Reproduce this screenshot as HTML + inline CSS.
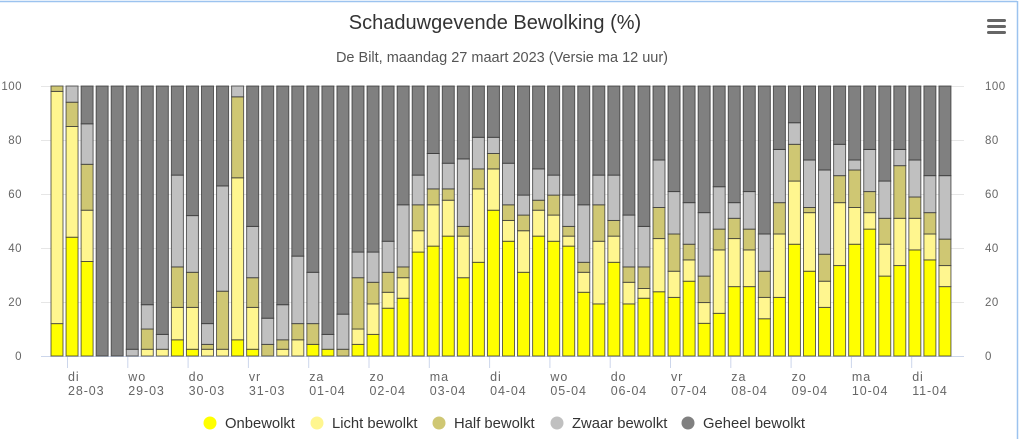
<!DOCTYPE html>
<html><head><meta charset="utf-8">
<style>
html,body{margin:0;padding:0;background:#fff;}
#wrap{position:relative;width:1023px;height:439px;overflow:hidden;font-family:"Liberation Sans",sans-serif;}
svg{position:absolute;left:0;top:0;}
</style></head>
<body>
<div id="wrap">
<svg id="chart" width="1023" height="439" xmlns="http://www.w3.org/2000/svg">
  <line x1="0" y1="1.5" x2="1017" y2="1.5" stroke="#9cc3ef" stroke-width="1.5"/>
  <line x1="1017.5" y1="1" x2="1017.5" y2="439" stroke="#9cc3ef" stroke-width="1.5"/>
  <text x="495" y="29" text-anchor="middle" font-size="20" fill="#333">Schaduwgevende Bewolking (%)</text>
  <text x="502" y="62" text-anchor="middle" font-size="14.5" fill="#555">De Bilt, maandag 27 maart 2023 (Versie ma 12 uur)</text>
  <g>
    <rect x="985" y="18" width="22" height="18" fill="transparent"/>
    <rect x="987" y="19" width="19" height="3" rx="1.5" fill="#666"/>
    <rect x="987" y="25" width="19" height="3" rx="1.5" fill="#666"/>
    <rect x="987" y="31" width="19" height="3" rx="1.5" fill="#666"/>
  </g>
  <g id="grid"></g>
  <g id="bars"></g>
  <g id="xaxis"></g>
  <g id="legend"></g>
</svg>
</div>
<script>
const onbewolkt = [12,44,35,0,0,0,0,0,6,2.5,0,0,6,2.5,0,0,0,4.3,2.5,0,4.3,8,17.7,21.4,38.5,40.7,44.4,29,34.7,54,42.5,31,44.4,42.5,40.7,23.6,19.3,34.7,19.3,21.4,23.8,21.7,27.7,12.1,15.8,25.7,25.7,13.8,21.7,41.4,31.4,18,33.5,41.4,47,29.6,33.5,39.3,35.6,25.7];
const lichtBewolkt = [86,41,19,0,0,0,2.5,2.5,12,15.5,2.5,2.5,60,15.5,0,2.5,6,0,0,0,5.7,11.3,5.9,7.6,7.9,15.3,13.3,15.4,27.2,15.3,7.7,15.4,9.6,9.7,3.7,7.4,23.2,9.7,8,3.6,19.7,9.7,7.9,7.7,23.5,17.8,13.6,7.9,23.5,23.4,21.7,9.7,23.3,13.6,6.1,11.8,17.5,11.7,9.6,7.8];
const halfBewolkt = [2,9,17,0,0,0,7.5,0,15,13,1.8,21.5,30,11,4.3,3.5,6,7.7,0,2.5,19,8,7.4,4,9.6,5.9,4.2,3.6,7.4,5.7,5.8,5.8,3.7,7.4,3.6,3.7,13.5,5.8,5.7,8,11.5,13.8,5.8,9.8,7.7,7.5,7.7,9.7,11.6,13.6,1.9,10,10,13.9,7.8,9.6,19.5,7.9,7.9,9.8];
const zwaarBewolkt = [0,6,15,0,0,2.5,9,5.5,34,21,7.7,39,4,19,9.7,13,25,19,5.5,13,9.5,11.2,11.5,23,11,13.1,9.5,25,11.7,6,15.4,7.4,11.6,7.4,11.6,21.3,11,16.8,19.2,15,17.6,15.7,15.4,23.5,15.7,5.8,13.9,13.8,19.7,8,17.6,31.2,11.6,3.7,15.6,13.8,6,13.7,13.7,23.5];
const geheelBewolkt = onbewolkt.map((v,i)=>Math.max(0,100-v-lichtBewolkt[i]-halfBewolkt[i]-zwaarBewolkt[i]));
const dayNames = ["di","wo","do","vr","za","zo","ma","di","wo","do","vr","za","zo","ma","di"];
const dayDates = ["28-03","29-03","30-03","31-03","01-04","02-04","03-04","04-04","05-04","06-04","07-04","08-04","09-04","10-04","11-04"];
const yTicks = [0,20,40,60,80,100];
const seriesNames = ["Onbewolkt","Licht bewolkt","Half bewolkt","Zwaar bewolkt","Geheel bewolkt"];
const seriesColors = ["#ffff00","#fff68f","#cfc773","#c0c0c0","#808080"];
const seriesData = [onbewolkt,lichtBewolkt,halfBewolkt,zwaarBewolkt,geheelBewolkt];

const NS="http://www.w3.org/2000/svg";
const y0=356, y100=86, xLeft=41, xRight=964;
const yScale=v=>y0-(v/100)*(y0-y100);
const xCenter=i=>57+i*15.05;
const barW=12;
function mk(tag,attrs,parent){const e=document.createElementNS(NS,tag);for(const k in attrs)e.setAttribute(k,attrs[k]);parent.appendChild(e);return e;}

const grid=document.getElementById('grid');
yTicks.forEach(t=>{
  const y=yScale(t);
  const l=mk('line',{x1:xLeft,x2:xRight,y1:y+0.5,y2:y+0.5,stroke:t===0?'#ccd6eb':'#e6e6e6','stroke-width':1},grid);
  
  
  const a=mk('text',{x:22,y:y+4,'text-anchor':'end','font-size':11.5,fill:'#666','letter-spacing':0.5},grid);
  a.textContent=t;
  
  
  const b=mk('text',{x:985,y:y+4,'text-anchor':'start','font-size':11.5,fill:'#666','letter-spacing':0.5},grid);
  b.textContent=t;
  
  
});

const bars=document.getElementById('bars');
onbewolkt.forEach((_,i)=>{
  let cum=0;
  seriesData.forEach((arr,s)=>{
    const v=arr[i];
    if(v<=0.05){return;}
    const yt=yScale(cum+v), yb=yScale(cum);
    const r=mk('rect',{x:xCenter(i)-barW/2,y:yt,width:barW,height:Math.max(0,yb-yt),fill:seriesColors[s],stroke:'#333','stroke-opacity':0.75,'stroke-width':1},bars);
    
    
    cum+=v;
  });
});

const xa=document.getElementById('xaxis');
dayNames.forEach((d,k)=>{
  const x=67+k*60.3;
  const t=mk('line',{x1:x+0.5,x2:x+0.5,y1:357,y2:368,stroke:'#ccd6eb'},xa);
  
  
  const a=mk('text',{x:x+1,y:381,'font-size':12.5,fill:'#666','letter-spacing':0.9},xa);
  a.textContent=d;
  
  
  const b=mk('text',{x:x+1,y:395,'font-size':12.5,fill:'#666','letter-spacing':0.9},xa);
  b.textContent=dayDates[k];
  
  
});

const lg=document.getElementById('legend');
const legX=[210,317,439,557,688];
seriesNames.forEach((n,s)=>{
  const g=mk('g',{},lg);
  
  
  mk('circle',{cx:legX[s],cy:423,r:6.5,fill:seriesColors[s]},g);
  const t=mk('text',{x:legX[s]+15,y:428,'font-size':14.8,fill:'#333'},g);
  t.textContent=n;
});
</script>
</body></html>
